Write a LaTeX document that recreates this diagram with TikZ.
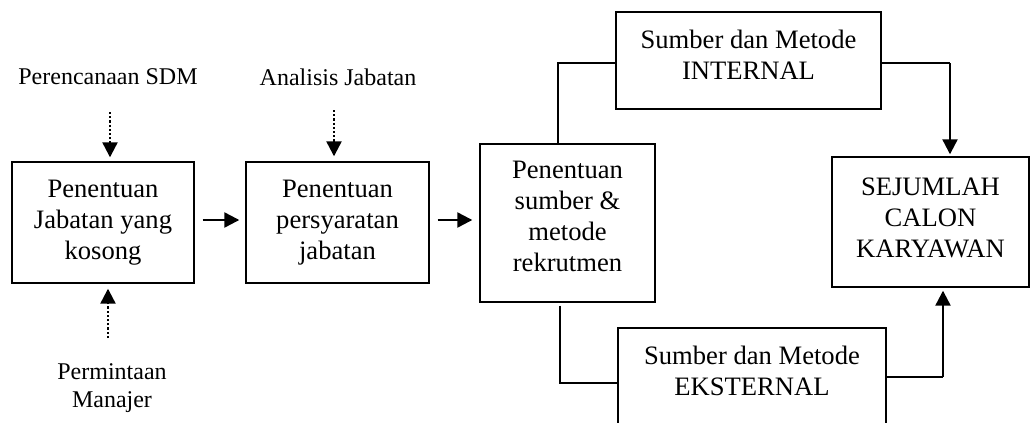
\documentclass[tikz,border=0pt]{standalone}
\usepackage{fontspec}
\setmainfont{Liberation Serif}
\usetikzlibrary{arrows.meta}
\begin{document}
\begin{tikzpicture}[x=1pt,y=-1pt,
  box/.style={draw, line width=1.4pt, inner sep=0pt},
  txt/.style={align=center, inner sep=0pt, font=\fontsize{26.6}{31}\selectfont},
  lbl/.style={align=center, inner sep=0pt, font=\fontsize{24}{28}\selectfont},
  arr/.style={line width=2.3pt, -{Triangle[length=15pt,width=15pt]}},
  dotarr/.style={arr, dash pattern=on 2.2pt off 2pt},
  conn/.style={line width=1.4pt}]
\useasboundingbox (0,0) rectangle (1031,423);
% boxes
\node[box, minimum width=182pt, minimum height=121pt] (b1) at (103,222.5) {};
\node[box, minimum width=183pt, minimum height=121pt] (b2) at (337.5,222.5) {};
\node[box, minimum width=175pt, minimum height=158pt] (b3) at (567.5,223) {};
\node[box, minimum width=265pt, minimum height=97pt] (int) at (748.5,60.5) {};
\node[box, minimum width=268pt, minimum height=97pt] (eks) at (752,376.5) {};
\node[box, minimum width=197pt, minimum height=130pt] (sck) at (930.5,222) {};
% box texts
\node[txt] (b1t) at (b1.center) {Penentuan\\Jabatan yang\\kosong};
\node[txt] (b2t) at (b2.center) {Penentuan\\persyaratan\\jabatan};
\node[txt] (b3t) at ([yshift=7pt]b3.center) {Penentuan\\sumber \&\\metode\\rekrutmen};
\node[txt] (intt) at ([yshift=6pt]int.center) {Sumber dan Metode\\INTERNAL};
\node[txt] (ekst) at ([yshift=6pt]eks.center) {Sumber dan Metode\\EKSTERNAL};
\node[txt] (sckt) at ([yshift=4pt]sck.center) {SEJUMLAH\\CALON\\KARYAWAN};
% labels
\node[lbl] (l1) at (108,77) {Perencanaan SDM};
\node[lbl] (l2) at (338,77) {Analisis Jabatan};
\node[lbl] (l3) at (112,388) {Permintaan\\Manajer};
% dotted arrows
\coordinate (a1) at (110,112);
\coordinate (a2) at (334,110);
\coordinate (a3) at (108,338);
\draw[dotarr, shorten >=4pt] (a1) -- (a1 |- b1.north);
\draw[dotarr, shorten >=5pt] (a2) -- (a2 |- b2.north);
\draw[dotarr, shorten >=5pt] (a3) -- (a3 |- b1.south);
% horizontal arrows
\draw[arr, shorten <=8pt, shorten >=6pt] ([yshift=2.5pt]b1.east) -- ([yshift=2.5pt]b2.west);
\draw[arr, shorten <=8pt, shorten >=7pt] ([yshift=2.5pt]b2.east) -- ([yshift=3pt]b3.west);
% tree lines
\coordinate (t1) at (558,63);
\coordinate (t2) at (560,383);
\coordinate (t3) at (950,63);
\coordinate (t4) at (943,377);
\draw[conn] (b3.north -| t1) -- (t1) -- (t1 -| int.west);
\draw[conn] ([yshift=-3pt]b3.south -| t2) -- (t2) -- (t2 -| eks.west);
\draw[conn] (t3 -| int.east) -- (t3);
\draw[arr, shorten >=2pt] (t3) -- (t3 |- sck.north);
\draw[conn] (t4 -| eks.east) -- (t4);
\draw[arr, shorten >=3pt] (t4) -- (t4 |- sck.south);
\end{tikzpicture}
\end{document}
